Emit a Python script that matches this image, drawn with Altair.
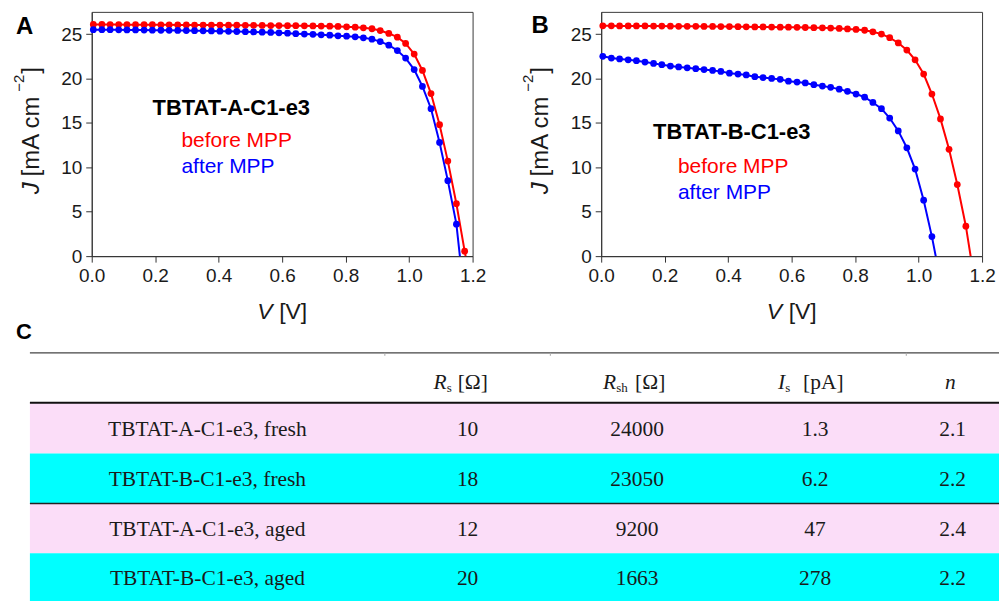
import altair as alt
import pandas as pd

# ---------------- data ----------------
V = [0.005, 0.032, 0.058, 0.085, 0.111, 0.138, 0.165, 0.191, 0.218, 0.244,
     0.271, 0.298, 0.324, 0.351, 0.377, 0.404, 0.431, 0.457, 0.484, 0.510,
     0.537, 0.564, 0.590, 0.617, 0.643, 0.670, 0.697, 0.723, 0.750, 0.776,
     0.803, 0.830, 0.856, 0.883, 0.909, 0.936, 0.963, 0.989, 1.016, 1.042,
     1.069, 1.096, 1.122, 1.149, 1.175]

J_A_BEFORE = [26.08, 26.08, 26.07, 26.07, 26.06, 26.06, 26.05, 26.05, 26.04, 26.04,
              26.03, 26.03, 26.02, 26.02, 26.01, 26.01, 26.00, 26.00, 25.99, 25.98,
              25.97, 25.96, 25.96, 25.95, 25.94, 25.93, 25.92, 25.90, 25.89, 25.86,
              25.82, 25.77, 25.70, 25.60, 25.40, 25.07, 24.65, 23.95, 22.75, 20.90,
              18.30, 14.80, 10.70, 5.90, 0.56]
J_A_AFTER = [25.50, 25.50, 25.49, 25.48, 25.47, 25.46, 25.45, 25.44, 25.43, 25.42,
             25.41, 25.40, 25.38, 25.37, 25.35, 25.33, 25.31, 25.29, 25.27, 25.24,
             25.21, 25.18, 25.14, 25.10, 25.05, 25.00, 24.97, 24.92, 24.88, 24.81,
             24.76, 24.69, 24.58, 24.43, 24.15, 23.75, 23.15, 22.30, 21.00, 19.10,
             16.60, 12.80, 8.50, 3.60]
J_B_BEFORE = [25.93, 25.93, 25.92, 25.92, 25.91, 25.91, 25.90, 25.90, 25.89, 25.88,
              25.88, 25.87, 25.86, 25.86, 25.85, 25.84, 25.83, 25.82, 25.81, 25.80,
              25.79, 25.78, 25.77, 25.76, 25.74, 25.72, 25.70, 25.67, 25.63, 25.58,
              25.52, 25.43, 25.26, 25.00, 24.60, 24.00, 23.20, 22.10, 20.50, 18.25,
              15.45, 12.03, 8.06, 3.37]
J_B_AFTER = [22.50, 22.30, 22.20, 22.10, 22.00, 21.85, 21.70, 21.55, 21.40, 21.30,
             21.20, 21.10, 21.00, 20.90, 20.80, 20.60, 20.50, 20.40, 20.20, 20.10,
             20.00, 19.90, 19.70, 19.60, 19.50, 19.30, 19.15, 19.00, 18.80, 18.55,
             18.25, 17.90, 17.30, 16.60, 15.55, 14.10, 12.20, 9.80, 6.30, 2.20]
VOC_A = [1.178, 1.160]   # open-circuit voltage (J = 0) before / after MPP
VOC_B = [1.164, 1.054]
SERIES = ["before MPP", "after MPP"]
SAMPLES = ["TBTAT-A-C1-e3", "TBTAT-B-C1-e3"]

X_TICKS = [0.0, 0.1, 0.2, 0.3, 0.4, 0.5, 0.6, 0.7, 0.8, 0.9, 1.0, 1.1, 1.2]
Y_TICKS = [0, 2.5, 5, 7.5, 10, 12.5, 15, 17.5, 20, 22.5, 25]

ROW_LABELS = ["TBTAT-A-C1-e3, fresh", "TBTAT-B-C1-e3, fresh",
              "TBTAT-A-C1-e3, aged", "TBTAT-B-C1-e3, aged"]
RS = ["10", "18", "12", "20"]
RSH = ["24000", "23050", "9200", "1663"]
IS = ["1.3", "6.2", "47", "278"]
N_IDEAL = ["2.1", "2.2", "2.4", "2.2"]
HEAD_SYM = ["R", "R", "I", "n"]
HEAD_SUB = ["s", "sh", "s", ""]
HEAD_UNIT = ["[Ω]", "[Ω]", "[pA]", ""]

# ---------------- style / layout ----------------
SANS = "Liberation Sans"
SERIF = "Liberation Serif"
RED = "#FF0000"
BLUE = "#0000FF"
PINK = "#FBDDF8"
CYAN = "#00FFFF"
INK = "#1a1a1a"
PW, PH = 382, 245

COL_EDGES = [0, 356, 522, 696, 879, 972]
ROW_EDGES = [0, 50, 101, 151, 201, 249]
HEAD_OFF = [(-21, -21, -10), (-21, -21, -2), (-30, -30, -12), (3, 0, 0)]
HEAD_Y = 30


def txt(s, x, y, size, color=INK, font=SANS, weight="normal", style="normal",
        align="left", baseline="alphabetic", angle=0):
    return alt.Chart(pd.DataFrame({"t": [s]})).mark_text(
        align=align, baseline=baseline, font=font, fontSize=size,
        fontWeight=weight, fontStyle=style, color=color, angle=angle
    ).encode(x=alt.value(x), y=alt.value(y), text="t:N")


def iv_panel(jb, ja, voc, sample, letter, lay):
    pts = pd.DataFrame({
        "V": V[:len(jb)] + V[:len(ja)],
        "J": jb + ja,
        "s": [SERIES[0]] * len(jb) + [SERIES[1]] * len(ja),
    })
    ends = pd.DataFrame({"V": voc, "J": [0.0, 0.0], "s": SERIES})
    lines = pd.concat([pts, ends], ignore_index=True)

    xenc = alt.X("V:Q", scale=alt.Scale(domain=[0, 1.2], nice=False, zero=False),
                 axis=alt.Axis(values=X_TICKS, format=".1f", title=None,
                               labelExpr="round(datum.value*10) % 2 === 0 ? datum.label : ''",
                               tickSize={"condition": {"test": "round(datum.value*10) % 2 === 0", "value": 6}, "value": 3},
                               labelFlush=False, labelOverlap=False, labelPadding=4))
    yenc = alt.Y("J:Q", scale=alt.Scale(domain=[0, 27.5], nice=False, zero=False),
                 axis=alt.Axis(values=Y_TICKS, title=None,
                               labelExpr="datum.value % 5 === 0 ? datum.label : ''",
                               tickSize={"condition": {"test": "datum.value % 5 === 0", "value": 6}, "value": 3},
                               labelFlush=False, labelOverlap=False, labelPadding=4))
    cenc = alt.Color("s:N", scale=alt.Scale(domain=SERIES, range=[RED, BLUE]), legend=None)

    line = alt.Chart(lines).mark_line(strokeWidth=2).encode(x=xenc, y=yenc, color=cenc)
    dots = alt.Chart(pts).mark_circle(size=46, opacity=1).encode(x="V:Q", y="J:Q", color=cenc)

    helper = alt.Chart(pd.DataFrame({"a": [0]})).mark_rule(opacity=0).encode(
        x=alt.value(-91), x2=alt.value(-91), y=alt.value(-10), y2=alt.value(-10))

    layers = [helper, line, dots,
              txt(sample, lay["tx"], lay["ty"], 22, color="#000", weight="bold"),
              txt(SERIES[0], lay["lx"], lay["ly1"], 21, color=RED),
              txt(SERIES[1], lay["lx"], lay["ly2"], 21, color=BLUE),
              txt(letter, lay["Lx"], lay["Ly"], 24, color="#000", weight="bold"),
              txt("V", 166, 308, 23, style="italic"),
              txt("[V]", 188, 308, 23),
              txt("J", -53, 183, 24, style="italic", angle=270),
              txt("[mA cm", -53, 165, 24, angle=270),
              txt("−2", -68, 80, 15, angle=270),
              txt("]", -53, 62, 24, angle=270)]
    return alt.layer(*layers).properties(
        width=PW, height=PH, view=alt.ViewBackground(stroke="#3a3a3a", strokeWidth=1))


panelA = iv_panel(J_A_BEFORE, J_A_AFTER, VOC_A, SAMPLES[0], "A",
                  dict(tx=61, ty=103, lx=90, ly1=136, ly2=162, Lx=-76, Ly=22))
panelB = iv_panel(J_B_BEFORE, J_B_AFTER, VOC_B, SAMPLES[1], "B",
                  dict(tx=52, ty=128, lx=77, ly1=162, ly2=188, Lx=-70, Ly=21))

# ---------------- table ----------------
# table units are pixels from the table's left edge; the view covers the first
# column of the layout only, the rest of the table is drawn past its right side
TX = alt.Scale(domain=[62, 62 + PW], nice=False, zero=False)
TY = alt.Scale(domain=[0, ROW_EDGES[-1]], reverse=True, nice=False, zero=False)

rows = pd.DataFrame({
    "x0": [COL_EDGES[0]] * 4, "x1": [COL_EDGES[-1]] * 4,
    "y0": ROW_EDGES[1:5], "y1": ROW_EDGES[2:6],
    "kind": ["A" if "-A-" in r else "B" for r in ROW_LABELS],
})
cells = []
for i, vals in enumerate(zip(ROW_LABELS, RS, RSH, IS, N_IDEAL)):
    yc = (ROW_EDGES[i + 1] + ROW_EDGES[i + 2]) / 2
    for c, v in enumerate(vals):
        cells.append({"t": v, "xc": (COL_EDGES[c] + COL_EDGES[c + 1]) / 2, "yc": yc})
cells = pd.DataFrame(cells)

head = []
for c in range(4):
    xc = (COL_EDGES[c + 1] + COL_EDGES[c + 2]) / 2
    o = HEAD_OFF[c]
    head.append({"sym": HEAD_SYM[c], "sub": HEAD_SUB[c], "unit": HEAD_UNIT[c],
                 "xs": xc + o[0], "xb": xc + o[1], "xu": xc + o[2], "y": HEAD_Y})
head = pd.DataFrame(head)

bg = alt.Chart(rows).mark_rect().encode(
    x=alt.X("x0:Q", scale=TX, axis=None), x2="x1:Q",
    y=alt.Y("y0:Q", scale=TY, axis=None), y2="y1:Q",
    fill=alt.Fill("kind:N", scale=alt.Scale(domain=["A", "B"], range=[PINK, CYAN]), legend=None))


def hline(yv, w, col):
    return alt.Chart(pd.DataFrame({"x0": [COL_EDGES[0]], "x1": [COL_EDGES[-1]], "y": [yv]})).mark_rule(
        strokeWidth=w, color=col).encode(x=alt.X("x0:Q", scale=TX), x2="x1:Q", y=alt.Y("y:Q", scale=TY))


ticks_top = alt.Chart(pd.DataFrame({"x": [COL_EDGES[1], COL_EDGES[2], COL_EDGES[4]], "y0": [0] * 3, "y1": [3] * 3})).mark_rule(
    color="#aaaaaa", strokeWidth=1).encode(x=alt.X("x:Q", scale=TX), y=alt.Y("y0:Q", scale=TY), y2="y1:Q")

body = alt.Chart(cells).mark_text(font=SERIF, fontSize=21.5, color=INK, baseline="alphabetic", dy=8).encode(
    x=alt.X("xc:Q", scale=TX), y=alt.Y("yc:Q", scale=TY), text="t:N")
hsym = alt.Chart(head).mark_text(font=SERIF, fontSize=21.5, fontStyle="italic", color=INK, align="right").encode(
    x=alt.X("xs:Q", scale=TX), y=alt.Y("y:Q", scale=TY), text="sym:N")
hsub = alt.Chart(head).mark_text(font=SERIF, fontSize=13, color=INK, align="left", dy=5).encode(
    x=alt.X("xb:Q", scale=TX), y=alt.Y("y:Q", scale=TY), text="sub:N")
hunit = alt.Chart(head).mark_text(font=SERIF, fontSize=21.5, color=INK, align="left").encode(
    x=alt.X("xu:Q", scale=TX), y=alt.Y("y:Q", scale=TY), text="unit:N")

table = alt.layer(
    bg, hline(0, 1.3, "#444444"), hline(50, 2, "#111111"), hline(151, 1.5, "#222222"),
    ticks_top, body, hsym, hsub, hunit,
    txt("C", -76, -14, 22, color="#000", weight="bold"),
).properties(width=PW, height=ROW_EDGES[-1])

chart = alt.concat(panelA, panelB, table, columns=2,
                   spacing={"row": 97, "column": 129}, bounds="flush").resolve_scale(
    color="independent", fill="independent"
).properties(
    padding=0
).configure_view(stroke="transparent").configure_axis(
    labelFont=SANS, labelFontSize=19, labelColor=INK, tickColor="#333333",
    domainColor="#333333", grid=False
).configure_text(font=SANS)

chart.save("out.html", embed_options={"renderer": "svg", "actions": False})
